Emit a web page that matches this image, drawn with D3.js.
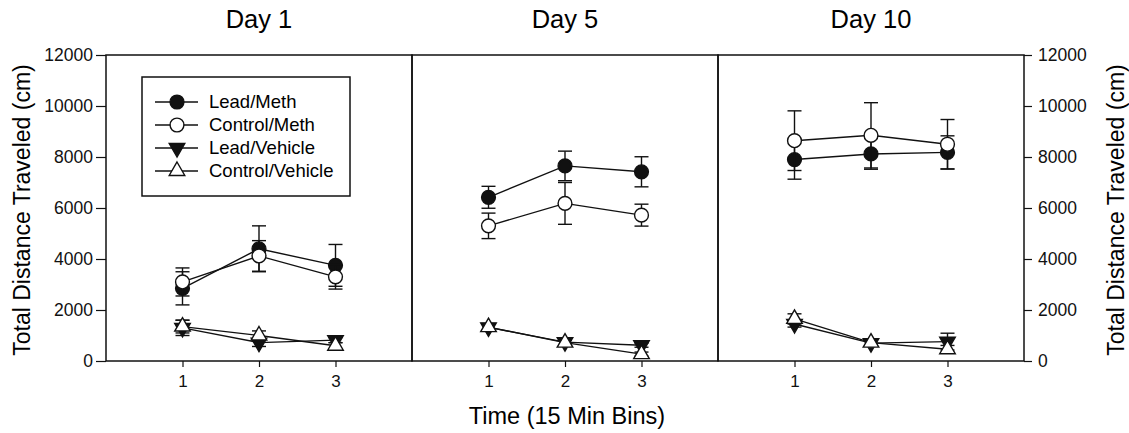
<!DOCTYPE html>
<html>
<head>
<meta charset="utf-8">
<script src="https://cdn.jsdelivr.net/npm/d3@7"></script>
<style>
  body { margin: 0; background: #fff; }
  svg { font-family: "Liberation Sans", Arial, sans-serif; }
</style>
</head>
<body>
<svg width="1129" height="433"></svg>
<script>
const svg = d3.select("svg");

// data (cm), one row per day, one value per 15 min bin
const days = ["Day 1", "Day 5", "Day 10"];
const bins = [1, 2, 3];
const yTicks = [0, 2000, 4000, 6000, 8000, 10000, 12000];
const seriesNames = ["Lead/Meth", "Control/Meth", "Lead/Vehicle", "Control/Vehicle"];

const leadMeth = [[2850, 4400, 3750], [6420, 7650, 7420], [7900, 8120, 8180]];
const leadMethErr = [[650, 900, 820], [430, 580, 590], [770, 600, 650]];
const controlMeth = [[3100, 4120, 3300], [5300, 6180, 5720], [8640, 8850, 8500]];
const controlMethErr = [[550, 600, 480], [500, 820, 430], [1170, 1280, 970]];
const leadVehicle = [[1300, 720, 820], [1320, 740, 620], [1450, 700, 760]];
const leadVehicleErr = [[300, 150, 100], [120, 100, 80], [120, 120, 330]];
const controlVehicle = [[1350, 1000, 600], [1330, 720, 270], [1650, 720, 460]];
const controlVehicleErr = [[250, 180, 120], [120, 100, 80], [200, 100, 150]];

const values = [leadMeth, controlMeth, leadVehicle, controlVehicle];
const errors = [leadMethErr, controlMethErr, leadVehicleErr, controlVehicleErr];

const plotLeft = 106, pw = 306, plotTop = 55, plotBottom = 361;
const ink = "#111";

const yScale = d3.scaleLinear().domain([0, 12000]).range([plotBottom, plotTop]);

// marker for each series
const markers = [
  {type: d3.symbolCircle, size: 150, fill: ink, rot: 0},
  {type: d3.symbolCircle, size: 150, fill: "#fff", rot: 0},
  {type: d3.symbolTriangle, size: 105, fill: ink, rot: 180},
  {type: d3.symbolTriangle, size: 105, fill: "#fff", rot: 0}
];

days.forEach((day, di) => {
  const x0 = plotLeft + di * pw;
  const xScale = d3.scaleLinear().domain([0, 4]).range([x0, x0 + pw]);

  const g = svg.append("g");

  g.append("rect")
    .attr("x", x0).attr("y", plotTop)
    .attr("width", pw).attr("height", plotBottom - plotTop)
    .attr("fill", "none").attr("stroke", ink).attr("stroke-width", 1.5);

  svg.append("text")
    .attr("x", x0 + pw / 2)
    .attr("y", 28)
    .attr("text-anchor", "middle")
    .style("font-size", "25.5px")
    .text(day);

  const xAxis = d3.axisBottom(xScale).tickValues(bins).tickSize(6).tickPadding(8).tickFormat(d3.format("d"));
  const gx = g.append("g").attr("transform", `translate(0,${plotBottom})`).call(xAxis);
  gx.select(".domain").remove();
  gx.selectAll("line").attr("stroke", ink).attr("stroke-width", 1.2);
  gx.selectAll("text").style("font-size", "17px").attr("fill", ink).attr("font-family", null);

  values.forEach((series, si) => {
    const vals = series[di];
    const errs = errors[si][di];
    const m = markers[si];

    const line = d3.line().x((d, i) => xScale(bins[i])).y(d => yScale(d));
    g.append("path")
      .attr("d", line(vals))
      .attr("fill", "none").attr("stroke", ink).attr("stroke-width", 1.4);

    const eb = g.append("g").attr("stroke", ink).attr("stroke-width", 1.4);
    vals.forEach((v, i) => {
      const cx = xScale(bins[i]);
      const hi = yScale(v + errs[i]), lo = yScale(v - errs[i]);
      eb.append("line").attr("x1", cx).attr("x2", cx).attr("y1", hi).attr("y2", lo);
      eb.append("line").attr("x1", cx - 7).attr("x2", cx + 7).attr("y1", hi).attr("y2", hi);
      eb.append("line").attr("x1", cx - 7).attr("x2", cx + 7).attr("y1", lo).attr("y2", lo);
    });

    g.selectAll(null).data(vals).enter().append("path")
      .attr("d", d3.symbol().type(m.type).size(m.size))
      .attr("transform", (d, i) => `translate(${xScale(bins[i])},${yScale(d)}) rotate(${m.rot})`)
      .attr("fill", m.fill).attr("stroke", ink).attr("stroke-width", 1.4);
  });
});

// y axes, left and right
const fmt = d3.format("d");
const yl = svg.append("g").attr("transform", `translate(${plotLeft},0)`)
  .call(d3.axisLeft(yScale).tickValues(yTicks).tickFormat(fmt).tickSize(10).tickPadding(3));
const yr = svg.append("g").attr("transform", `translate(${plotLeft + 3 * pw},0)`)
  .call(d3.axisRight(yScale).tickValues(yTicks).tickFormat(fmt).tickSize(8).tickPadding(6));
[yl, yr].forEach(a => {
  a.select(".domain").remove();
  a.selectAll("line").attr("stroke", ink).attr("stroke-width", 1.2);
  a.selectAll("text").style("font-size", "17.5px").attr("fill", ink).attr("font-family", null);
});

svg.append("text")
  .attr("transform", `translate(30,${(plotTop + plotBottom) / 2 + 2}) rotate(-90)`)
  .attr("text-anchor", "middle")
  .style("font-size", "23px")
  .text("Total Distance Traveled (cm)");

svg.append("text")
  .attr("transform", `translate(1124,${(plotTop + plotBottom) / 2 + 2}) rotate(-90)`)
  .attr("text-anchor", "middle")
  .style("font-size", "23px")
  .text("Total Distance Traveled (cm)");

svg.append("text")
  .attr("x", 567)
  .attr("y", 424)
  .attr("text-anchor", "middle")
  .style("font-size", "23.5px")
  .text("Time (15 Min Bins)");

// legend
const lg = svg.append("g");
lg.append("rect")
  .attr("x", 142).attr("y", 77).attr("width", 208).attr("height", 119)
  .attr("fill", "#fff").attr("stroke", ink).attr("stroke-width", 1.5);

seriesNames.forEach((name, i) => {
  const y = 102 + i * 23;
  const m = markers[i];
  lg.append("line").attr("x1", 155).attr("x2", 198).attr("y1", y).attr("y2", y)
    .attr("stroke", ink).attr("stroke-width", 1.4);
  lg.append("path")
    .attr("d", d3.symbol().type(m.type).size(m.size))
    .attr("transform", `translate(177,${y}) rotate(${m.rot})`)
    .attr("fill", m.fill).attr("stroke", ink).attr("stroke-width", 1.4);
  lg.append("text")
    .attr("x", 209).attr("y", y + 6)
    .style("font-size", "18.5px")
    .text(name);
});
</script>
</body>
</html>
